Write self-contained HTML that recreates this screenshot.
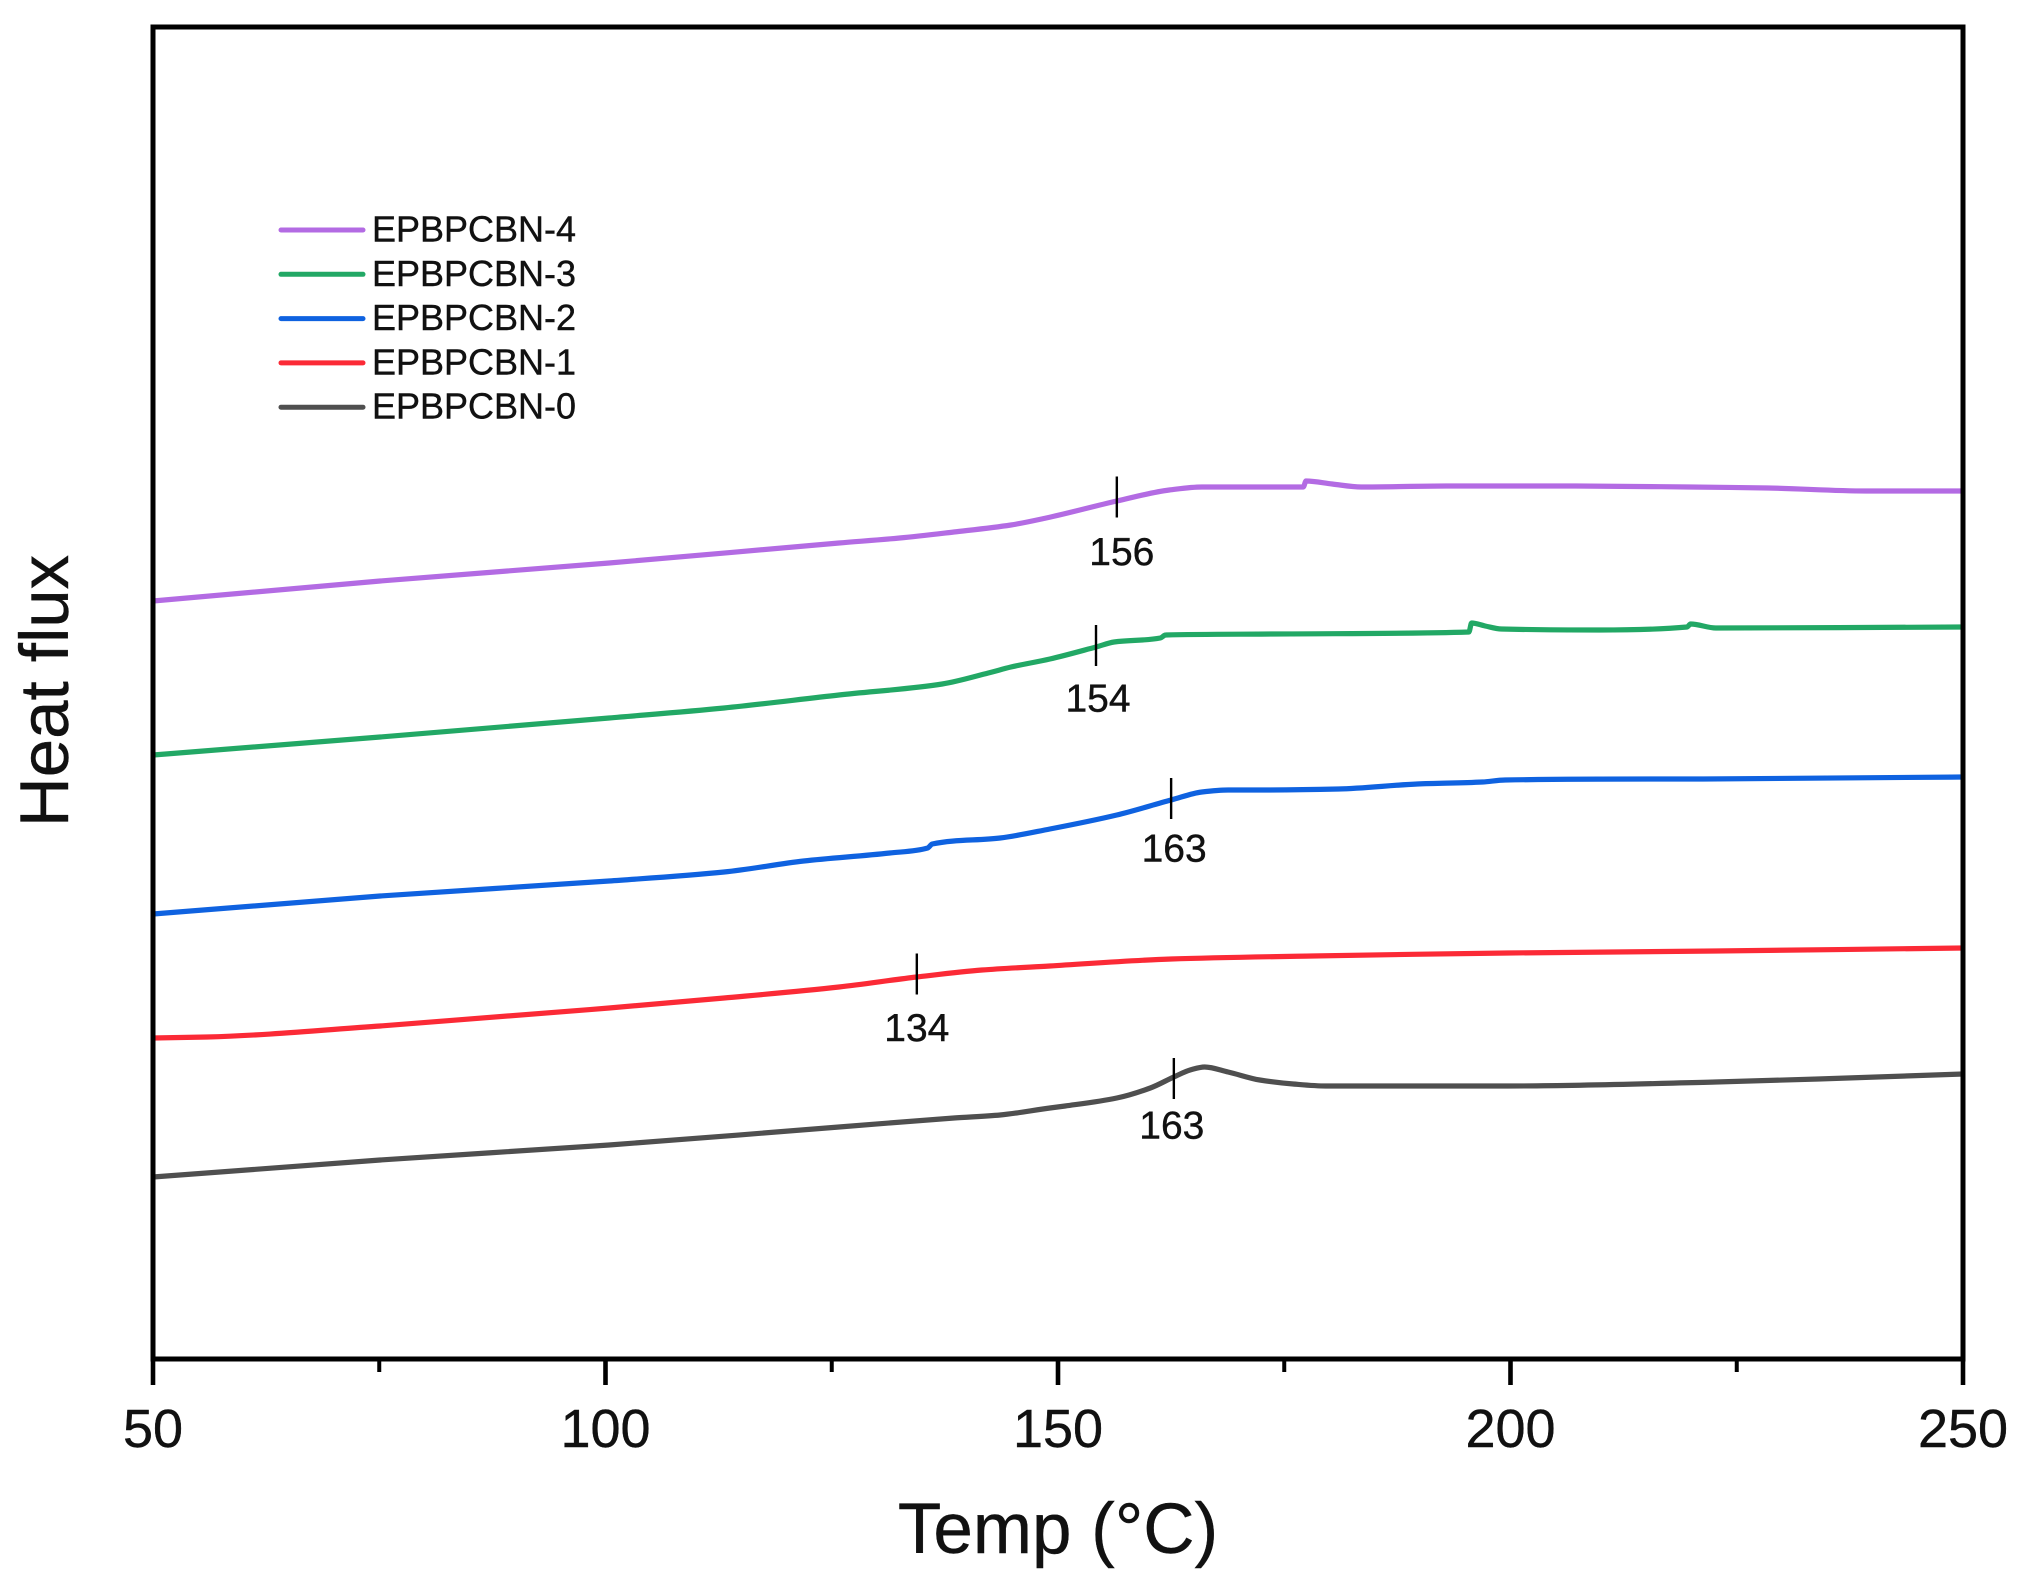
<!DOCTYPE html>
<html lang="en">
<head>
<meta charset="utf-8">
<title>Heat flux vs temperature</title>
<style>
  html, body { margin: 0; padding: 0; background: #fff; }
  body { width: 2021px; height: 1582px; overflow: hidden; }
  svg { display: block; }
  text { font-family: "Liberation Sans", sans-serif; fill: #111; stroke: #111; stroke-width: 0.4px; }
</style>
</head>
<body>
<svg id="chart" xmlns="http://www.w3.org/2000/svg" width="2021" height="1582" viewBox="0 0 2021 1582"></svg>
<script>
// Data
const xTicks = [50, 100, 150, 200, 250];
const xMinorTicks = [75, 125, 175, 225];
const seriesNames = ['EPBPCBN-4', 'EPBPCBN-3', 'EPBPCBN-2', 'EPBPCBN-1', 'EPBPCBN-0'];

const temp0 = [50, 75.1, 100.4, 125.8, 138.5, 143.6, 149.1, 150.8, 156.5, 160.2, 162.8, 164.6, 166.2, 168.8, 172.3, 176, 179.6, 199.7, 222.7, 250];
const flux0 = [18.2, 19.9, 21.4, 23.2, 24.1, 24.4, 25.1, 25.3, 26.1, 27.1, 28.2, 28.9, 29.2, 28.7, 27.9, 27.5, 27.3, 27.3, 27.7, 28.5];

const temp1 = [50, 56, 75.1, 100.4, 113.1, 125.8, 134.4, 141.6, 149.1, 162.5, 178.1, 199.7, 222.7, 250];
const flux1 = [32.1, 32.2, 33.3, 35.1, 36.1, 37.2, 38.2, 38.9, 39.3, 40, 40.3, 40.6, 40.8, 41.1];

const temp2 = [50, 75.1, 100.4, 113.1, 121.9, 131.4, 135.6, 136.1, 143.6, 149.1, 156.5, 162.5, 165.9, 168.8, 172.3, 181, 189.7, 196.9, 199.4, 215.5, 221.3, 250];
const flux2 = [44.5, 46.3, 47.8, 48.7, 49.8, 50.6, 51.1, 51.5, 52.1, 53, 54.4, 55.9, 56.7, 56.9, 56.9, 57, 57.5, 57.7, 57.9, 58, 58, 58.2];

const temp3 = [50, 75.1, 100.4, 113.1, 125.8, 137.2, 142.3, 144.8, 149.1, 154.2, 156.2, 161.3, 161.9, 173.8, 195.4, 195.7, 197.2, 199, 209.8, 219.5, 219.9, 222.7, 250];
const flux3 = [60.4, 62.2, 64.1, 65.1, 66.4, 67.5, 68.6, 69.2, 70, 71.2, 71.7, 72.1, 72.4, 72.5, 72.7, 73.6, 73.3, 73, 72.9, 73.2, 73.5, 73.1, 73.2];

const temp4 = [50, 75.1, 100.4, 125.8, 132.5, 138.5, 144.8, 148.7, 156.5, 162.3, 165.9, 177.1, 177.4, 180.3, 183.5, 192.9, 197.5, 207.2, 219.8, 228.5, 239.3, 250];
const flux4 = [75.8, 77.8, 79.6, 81.6, 82.1, 82.7, 83.4, 84.1, 85.8, 86.9, 87.2, 87.2, 87.8, 87.5, 87.2, 87.3, 87.3, 87.3, 87.2, 87.1, 86.8, 86.8];

const markerTemps = [156.5, 154.2, 162.5, 134.4, 162.8];
const markerFlux = [86.2, 71.35, 56.05, 38.5, 28.05];
const markerLabels = ['156', '154', '163', '134', '163'];

// Layout
const plot = { left: 153, right: 1963, top: 27, bottom: 1359 };
const xDomain = [50, 250];
const yDomain = [0, 133.2];
const seriesColors = ['#b36be3', '#22a865', '#0f62e0', '#fb2a36', '#4f4f4f'];
const labelShiftX = [5, 2, 3, 0, -2];
const labelShiftY = [68, 66, 63, 67, 60];

const NS = 'http://www.w3.org/2000/svg';
const svg = document.getElementById('chart');

function xScale(t) {
  return plot.left + (t - xDomain[0]) / (xDomain[1] - xDomain[0]) * (plot.right - plot.left);
}
function yScale(v) {
  return plot.bottom - (v - yDomain[0]) / (yDomain[1] - yDomain[0]) * (plot.bottom - plot.top);
}
function make(tag, attrs, text) {
  const el = document.createElementNS(NS, tag);
  for (const k in attrs) el.setAttribute(k, attrs[k]);
  if (text !== undefined) el.textContent = text;
  return el;
}
// Monotone cubic path through the scaled data points
function curvePath(xs, ys) {
  const n = xs.length;
  const d = [];
  const m = [];
  for (let i = 0; i < n - 1; i++) d.push((ys[i + 1] - ys[i]) / (xs[i + 1] - xs[i]));
  m.push(d[0]);
  for (let i = 1; i < n - 1; i++) {
    if (d[i - 1] * d[i] <= 0) {
      m.push(0);
    } else {
      const h0 = xs[i] - xs[i - 1];
      const h1 = xs[i + 1] - xs[i];
      m.push(3 * (h0 + h1) / ((2 * h1 + h0) / d[i - 1] + (h1 + 2 * h0) / d[i]));
    }
  }
  m.push(d[n - 2]);
  let out = 'M' + xs[0].toFixed(1) + ' ' + ys[0].toFixed(1);
  for (let i = 0; i < n - 1; i++) {
    const h = (xs[i + 1] - xs[i]) / 3;
    out += 'C' + (xs[i] + h).toFixed(1) + ' ' + (ys[i] + m[i] * h).toFixed(1) + ' ' +
      (xs[i + 1] - h).toFixed(1) + ' ' + (ys[i + 1] - m[i + 1] * h).toFixed(1) + ' ' +
      xs[i + 1].toFixed(1) + ' ' + ys[i + 1].toFixed(1);
  }
  return out;
}

// Series curves
const temps = [temp4, temp3, temp2, temp1, temp0];
const fluxes = [flux4, flux3, flux2, flux1, flux0];
seriesNames.forEach(function (name, i) {
  const line = make('path', { d: curvePath(temps[i].map(xScale), fluxes[i].map(yScale)), fill: 'none', stroke: seriesColors[i], 'stroke-width': 5.2, 'stroke-linejoin': 'round' });
  
  
  svg.appendChild(line);
});

// Plot frame
const frame = make('rect', { x: plot.left, y: plot.top, width: plot.right - plot.left, height: plot.bottom - plot.top, fill: 'none', stroke: '#000', 'stroke-width': 5 });


svg.appendChild(frame);

// X ticks
xTicks.forEach(function (t) {
  const x = xScale(t);
  const tick = make('line', { x1: x, x2: x, y1: plot.bottom, y2: 1385, stroke: '#000', 'stroke-width': 4.6 });
  
  
  svg.appendChild(tick);
  const label = make('text', { x: x, y: 1447, 'text-anchor': 'middle', 'font-size': 54 }, String(t));
  
  
  svg.appendChild(label);
});
xMinorTicks.forEach(function (t) {
  const x = xScale(t);
  const tick = make('line', { x1: x, x2: x, y1: plot.bottom, y2: 1372, stroke: '#000', 'stroke-width': 4 });
  
  
  svg.appendChild(tick);
});

// Annotation markers
markerLabels.forEach(function (text, i) {
  const x = xScale(markerTemps[i]);
  const y = yScale(markerFlux[i]);
  const mark = make('line', { x1: x, x2: x, y1: y - 20.5, y2: y + 20.5, stroke: '#000', 'stroke-width': 2.4 });
  
  
  svg.appendChild(mark);
  const label = make('text', { x: x + labelShiftX[i], y: y + labelShiftY[i], 'text-anchor': 'middle', 'font-size': 39 }, text);
  
  
  svg.appendChild(label);
});

// Legend
seriesNames.forEach(function (name, i) {
  const y = 230 + i * 44.3;
  const key = make('line', { x1: 281, x2: 363, y1: y, y2: y, stroke: seriesColors[i], 'stroke-width': 5, 'stroke-linecap': 'round' });
  
  
  svg.appendChild(key);
  const label = make('text', { x: 372, y: y + 11.5, 'font-size': 36 }, name);
  
  
  svg.appendChild(label);
});

// Axis titles
const xTitle = make('text', { x: 1058, y: 1553, 'text-anchor': 'middle', 'font-size': 71 }, 'Temp (°C)');


svg.appendChild(xTitle);

const yTitle = make('text', { x: 0, y: 0, 'text-anchor': 'middle', 'font-size': 69, transform: 'translate(68 691) rotate(-90)' }, 'Heat flux');


svg.appendChild(yTitle);
</script>
</body>
</html>
